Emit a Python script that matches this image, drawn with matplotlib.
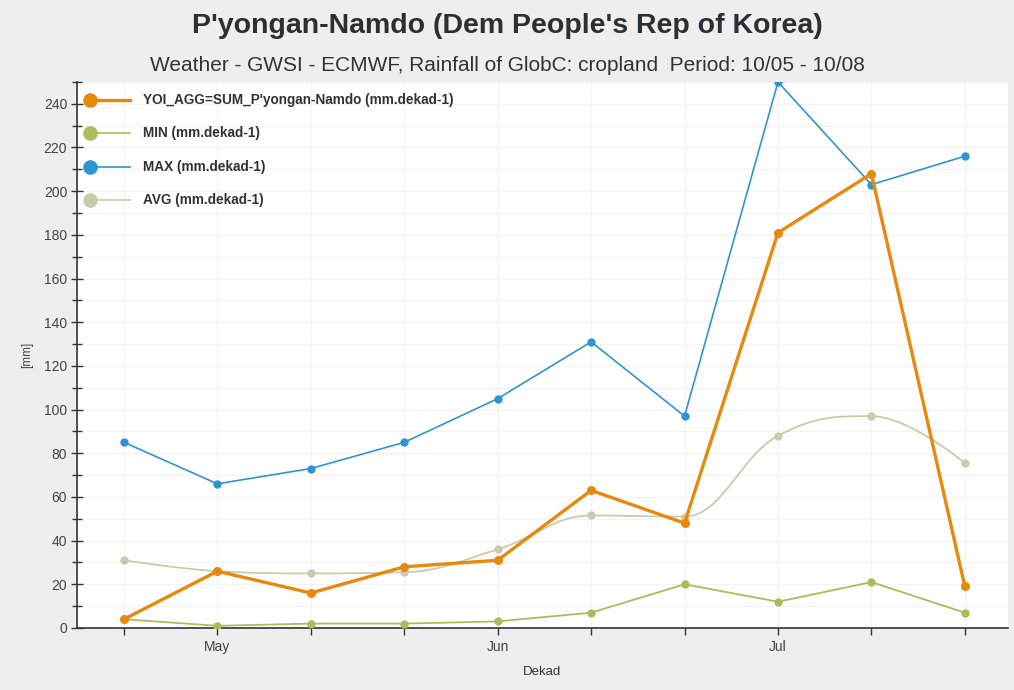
import numpy as np
import matplotlib

matplotlib.use("Agg")
import matplotlib.pyplot as plt
from matplotlib.path import Path
from matplotlib.patches import PathPatch
from matplotlib.ticker import MultipleLocator

plt.rcParams["font.family"] = ["Liberation Sans", "DejaVu Sans"]

# Декады с 10/05 по 10/08, подписи месяцев под 1-й декадой месяца.
dekads = list(range(10))
month_labels = ["", "May", "", "", "Jun", "", "", "Jul", "", ""]

yoi = [4, 26, 16, 28, 31, 63, 48, 181, 208, 19]
mins = [4, 1, 2, 2, 3, 7, 20, 12, 21, 7]
maxs = [85, 66, 73, 85, 105, 131, 97, 250, 203, 216]
avgs = [31, 26, 25, 25.5, 36, 51.5, 51, 88, 97, 75.5]

series_names = [
    "YOI_AGG=SUM_P'yongan-Namdo (mm.dekad-1)",
    "MIN (mm.dekad-1)",
    "MAX (mm.dekad-1)",
    "AVG (mm.dekad-1)",
]

C_YOI = "#e8890e"
C_MIN = "#a9bd5a"
C_MAX = "#2f95d0"
C_AVG = "#c9cbab"


def spline_path(xs, ys, smoothing=1.5):
    """Сглаженная линия как в Highcharts: кубические Безье через точки."""
    n = len(xs)
    verts = [(xs[0], ys[0])]
    codes = [Path.MOVETO]
    right_prev = (xs[0], ys[0])
    for i in range(1, n):
        x, y = xs[i], ys[i]
        if i < n - 1:
            lx, ly = xs[i - 1], ys[i - 1]
            nx, ny = xs[i + 1], ys[i + 1]
            d = smoothing + 1
            lcx = (smoothing * x + lx) / d
            lcy = (smoothing * y + ly) / d
            rcx = (smoothing * x + nx) / d
            rcy = (smoothing * y + ny) / d
            if rcx != lcx:
                corr = (rcy - lcy) * (rcx - x) / (rcx - lcx) + y - rcy
                lcy += corr
                rcy += corr
                if lcy > ly and lcy > y:
                    lcy = max(ly, y)
                    rcy = 2 * y - lcy
                elif lcy < ly and lcy < y:
                    lcy = min(ly, y)
                    rcy = 2 * y - lcy
                if rcy > ny and rcy > y:
                    rcy = max(ny, y)
                    lcy = 2 * y - rcy
                elif rcy < ny and rcy < y:
                    rcy = min(ny, y)
                    lcy = 2 * y - rcy
            left = (lcx, lcy)
            right = (rcx, rcy)
        else:
            left = (x, y)
            right = (x, y)
        verts += [right_prev, left, (x, y)]
        codes += [Path.CURVE4] * 3
        right_prev = right
    return Path(verts, codes)


fig = plt.figure(figsize=(10.14, 6.9), dpi=100, facecolor="#eeeeee")
ax = fig.add_axes([0.0759, 0.0899, 0.918, 0.7913])
ax.set_facecolor("white")

x = np.array(dekads, dtype=float)

# Сетка
for v in x:
    ax.axvline(v, color="#f3f3f3", lw=0.8, zorder=0)
ax.yaxis.set_minor_locator(MultipleLocator(10))
ax.yaxis.set_major_locator(MultipleLocator(20))
ax.grid(axis="y", which="both", color="#f3f3f3", lw=0.8, zorder=0)

# Серии
ax.add_patch(PathPatch(spline_path(x, np.array(avgs, float)), fc="none", ec=C_AVG, lw=1.3, zorder=2))
ax.plot(x, avgs, "o", color=C_AVG, ms=5, zorder=3)
ax.plot(x, mins, "-o", color=C_MIN, lw=1.3, ms=5, zorder=3)
ax.plot(x, maxs, "-o", color=C_MAX, lw=1.2, ms=5, zorder=4)
ax.plot(x, yoi, "-o", color=C_YOI, lw=2.4, ms=5.5, zorder=5)

ax.set_xlim(-0.503, 9.46)
ax.set_ylim(0, 250)

ax.set_xticks(x)
ax.set_xticklabels(month_labels)
ax.tick_params(axis="x", direction="out", length=5, width=1, color="#333333",
               labelsize=10, labelcolor="#444444", pad=4)
ax.tick_params(axis="y", which="major", direction="inout", length=8, width=1,
               color="#333333", labelsize=10, labelcolor="#444444", pad=3)
ax.tick_params(axis="y", which="minor", direction="inout", length=7, width=1, color="#333333")

for side in ["top", "right"]:
    ax.spines[side].set_visible(False)
ax.spines["left"].set_color("#333333")
ax.spines["bottom"].set_color("#333333")
ax.spines["left"].set_linewidth(1.2)
ax.spines["bottom"].set_linewidth(1.2)

ax.set_ylabel("[mm]", fontsize=8.5, color="#444444", labelpad=8)
ax.set_xlabel("Dekad", fontsize=9.5, color="#333333", labelpad=8)

# Легенда вручную: маркер слева от линии
rows_y = [0.967, 0.907, 0.844, 0.784]
colors = [C_YOI, C_MIN, C_MAX, C_AVG]
widths = [2.4, 1.2, 1.2, 1.2]
for name, yy, c, w in zip(series_names, rows_y, colors, widths):
    ax.plot([0.014, 0.057], [yy, yy], color=c, lw=w, transform=ax.transAxes, zorder=6, clip_on=False)
    ax.plot([0.014], [yy], "o", color=c, ms=9.5, transform=ax.transAxes, zorder=7, clip_on=False)
    ax.text(0.071, yy, name, transform=ax.transAxes, fontsize=9.8, fontweight="bold",
            color="#333333", va="center", ha="left", zorder=7)

fig.text(0.5, 0.962, "P'yongan-Namdo (Dem People's Rep of Korea)", ha="center", va="center",
         fontsize=20.5, fontweight="bold", color="#2b3035")
fig.text(0.5, 0.905, "Weather - GWSI - ECMWF, Rainfall of GlobC: cropland  Period: 10/05 - 10/08",
         ha="center", va="center", fontsize=15, color="#333333")

fig.savefig("out.png", dpi=100, facecolor=fig.get_facecolor())
